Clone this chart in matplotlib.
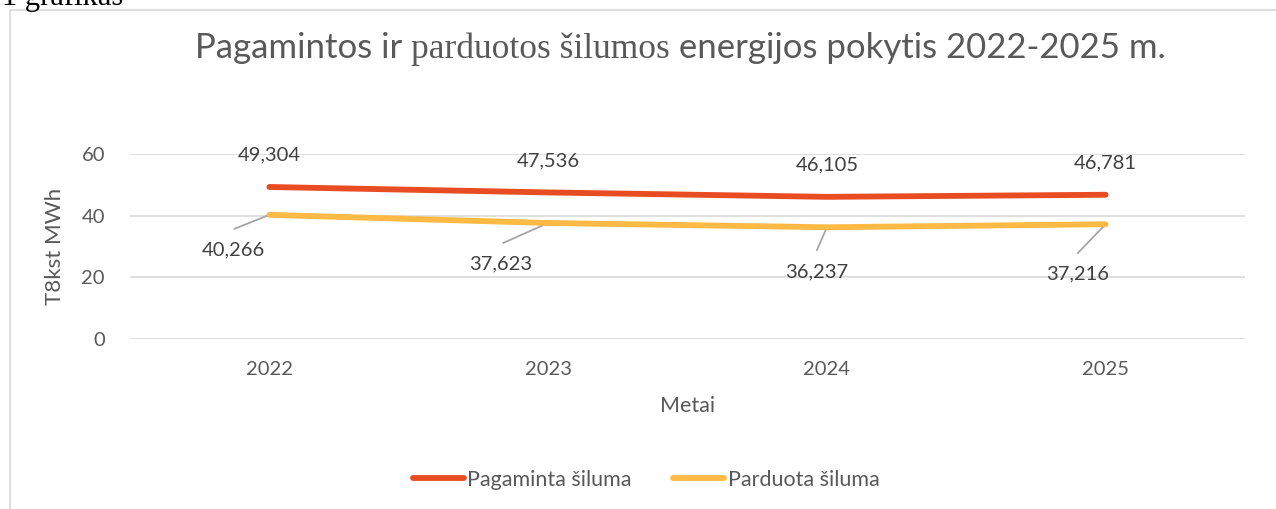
import matplotlib
matplotlib.use("Agg")
import matplotlib.pyplot as plt
from matplotlib.patches import Rectangle
from matplotlib.lines import Line2D
import numpy as np

years = ["2022", "2023", "2024", "2025"]
pagaminta = [49.304, 47.536, 46.105, 46.781]
parduota = [40.266, 37.623, 36.237, 37.216]
pag_labels = ["49,304", "47,536", "46,105", "46,781"]
par_labels = ["40,266", "37,623", "36,237", "37,216"]
yticks = [0, 20, 40, 60]

RED = "#E84C22"
YEL = "#FFBA46"
TXT = "#595959"
LBL = "#404040"
GRID = "#D9D9D9"
SANS = ["Lato", "DejaVu Sans"]
SERIF = ["Liberation Serif", "DejaVu Serif"]

W, H = 1276, 509
fig = plt.figure(figsize=(W / 100, H / 100), dpi=100)

def fx(px):
    return px / W

def fy(py):
    return 1 - py / H

# chart frame
fig.patches.append(Rectangle((fx(10), fy(H + 5)), fx(W), fy(10) - fy(H + 5),
                             transform=fig.transFigure, fill=False,
                             edgecolor=GRID, lw=1.2))
fig.text(fx(2), fy(5), "1 grafikas", family=SERIF, fontsize=22, color="black",
         va="baseline", ha="left")

ax = fig.add_axes([fx(130), fy(339), fx(1245) - fx(130), fy(154) - fy(339)])
x = np.arange(len(years))
ax.plot(x, pagaminta, color=RED, lw=4.2, solid_capstyle="round", zorder=3)
ax.plot(x, parduota, color=YEL, lw=4.2, solid_capstyle="round", zorder=3)
ax.set_xlim(-0.5, 3.5)
ax.set_ylim(0, 60)
ax.set_yticks(yticks)
ax.set_xticks(x)
ax.set_xticklabels(years)
ax.yaxis.grid(True, color=GRID, lw=1.2)
ax.set_axisbelow(True)
for s in ax.spines.values():
    s.set_visible(False)
ax.tick_params(length=0, labelsize=14.5, colors=TXT)
for lab in ax.get_xticklabels() + ax.get_yticklabels():
    lab.set_family(SANS)
ax.tick_params(axis="x", pad=16)
ax.tick_params(axis="y", pad=18)

ax.set_xlabel("Metai", fontsize=15.5, color=TXT, family=SANS, labelpad=13)
ax.set_ylabel("T8kst MWh", fontsize=16, color=TXT, family=SANS, labelpad=12)

# red labels above (pixel offsets of label centre from point)
for xi, v, lab in zip(x, pagaminta, pag_labels):
    ax.annotate(lab, (xi, v), xytext=(0, 32), textcoords="offset pixels",
                ha="center", va="center", fontsize=14.5, color=LBL, family=SANS)

# yellow labels below with leader lines (pixel offsets)
label_off = [(-36, -35), (-47, -41), (-10, -45), (-28, -50)]
leader_end = [(-35, -14), (-45, -20), (-10, -23), (-28, -29)]
for xi, v, lab, (dx, dy), (lx, ly) in zip(x, parduota, par_labels, label_off, leader_end):
    ax.annotate(lab, (xi, v), xytext=(dx, dy), textcoords="offset pixels",
                ha="center", va="center", fontsize=14.5, color=LBL, family=SANS)
    ax.annotate("", (xi, v), xytext=(lx, ly), textcoords="offset pixels",
                arrowprops=dict(arrowstyle="-", color="#A6A6A6", lw=1.3,
                                shrinkA=0, shrinkB=0), zorder=2)

# title with mixed fonts
pieces = [("Pagamintos ir ", SANS), ("parduotos šilumos", SERIF),
          (" energijos pokytis 2022-2025 m.", SANS)]
fig.canvas.draw()
r = fig.canvas.get_renderer()
txts = []
for s, fam in pieces:
    t = fig.text(0, fy(58), s, family=fam, fontsize=25 if fam is SANS else 25.5,
                 color=TXT, va="baseline", ha="left")
    txts.append(t)
widths = [t.get_window_extent(renderer=r).width for t in txts]
total = sum(widths)
cur = 680 - total / 2
for t, w in zip(txts, widths):
    t.set_x(fx(cur))
    cur += w

# legend
handles = [Line2D([], [], color=RED, lw=4.2, solid_capstyle="round"),
           Line2D([], [], color=YEL, lw=4.2, solid_capstyle="round")]
leg = fig.legend(handles, ["Pagaminta šiluma", "Parduota šiluma"], loc="center",
                 bbox_to_anchor=(fx(646), fy(480)), ncol=2, frameon=False,
                 prop={"family": SANS, "size": 15.5}, handlelength=2.4,
                 handletextpad=0.15, columnspacing=1.9)
for t in leg.get_texts():
    t.set_color(TXT)

fig.savefig("out.png", dpi=100)
